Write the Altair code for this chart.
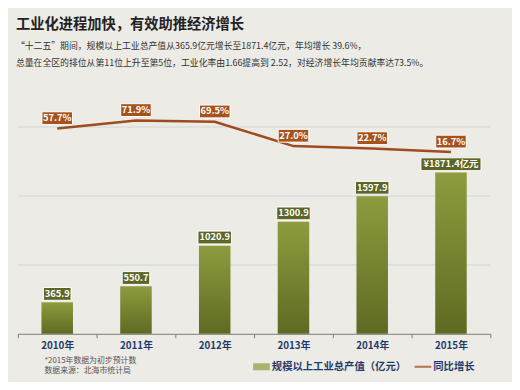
import altair as alt
import pandas as pd

years = ["2010年", "2011年", "2012年", "2013年", "2014年", "2015年"]
output = [365.9, 550.7, 1020.9, 1300.9, 1597.9, 1871.4]
output_labels = ["365.9", "550.7", "1020.9", "1300.9", "1597.9", "¥1871.4亿元"]
growth = [57.7, 71.9, 69.5, 27.0, 22.7, 16.7]
growth_labels = ["57.7%", "71.9%", "69.5%", "27.0%", "22.7%", "16.7%"]
grid_values = [800, 1600, 2400]
series_names = ["规模以上工业总产值（亿元）", "同比增长"]
title_text = "工业化进程加快，有效助推经济增长"
subtitle_lines = [
    "“十二五”期间，规模以上工业总产值从365.9亿元增长至1871.4亿元，年均增长 39.6%，",
    "总量在全区的排位从第11位上升至第5位，工业化率由1.66提高到 2.52，对经济增长年均贡献率达73.5%。",
]
footnote_lines = ["*2015年数据为初步预计数", "数据来源：北海市统计局"]

FONT = "Noto Sans CJK SC"
OLIVE_TOP = "#8d9c3e"
OLIVE_BOT = "#5f6a22"
OLIVE_BOX = "#5d6527"
BROWN = "#9e4b1f"
BROWN_BOX = "#a5521d"
NAVY = "#1f3b6e"

df = pd.DataFrame({
    "year": years,
    "output": output,
    "olabel": output_labels,
    "growth": growth,
    "glabel": growth_labels,
})

xenc = alt.X(
    "year:N",
    sort=years,
    title=None,
    scale=alt.Scale(paddingInner=0, paddingOuter=0),
    axis=alt.Axis(
        labelAngle=0, labelFont=FONT, labelFontSize=10, labelFontWeight="bold",
        labelColor=NAVY, labelPadding=3, tickBand="extent", tickSize=4,
        tickColor="#7a7a7a", domainColor="#7a7a7a", domainWidth=1, grid=False,
    ),
)

yleft = alt.Scale(domain=[0, 3200], nice=False, zero=False)
yright = alt.Scale(domain=[-302, 181], nice=False, zero=False)

base = alt.Chart(df)

grid = alt.Chart(pd.DataFrame({"g": grid_values})).mark_rule(
    color="#d9dcdc", strokeWidth=1.5
).encode(y=alt.Y("g:Q", scale=yleft, axis=None))

bars = base.mark_bar(
    width=32,
    color=alt.Gradient(
        gradient="linear",
        stops=[alt.GradientStop(color=OLIVE_TOP, offset=0),
               alt.GradientStop(color=OLIVE_BOT, offset=1)],
        x1=0, x2=0, y1=0, y2=1,
    ),
).encode(x=xenc, y=alt.Y("output:Q", scale=yleft, axis=None))


def bar_box(sel, w):
    return base.transform_filter(
        alt.FieldOneOfPredicate(field="year", oneOf=sel)
    ).mark_bar(
        width=w, yOffset=-15, y2Offset=-2, color=OLIVE_BOX,
        stroke="white", strokeWidth=1,
    ).encode(
        x=alt.X("year:N", sort=years),
        y=alt.Y("output:Q", scale=yleft, axis=None),
        y2="output:Q",
    )


box5 = bar_box(years[0:2], 28)
box6 = bar_box(years[2:5], 34)
box9 = bar_box(years[5:6], 61)

bar_text = base.mark_text(
    font=FONT, fontSize=9.5, fontWeight="bold", color="white", dy=-8.5,
    baseline="middle",
).encode(
    x=alt.X("year:N", sort=years),
    y=alt.Y("output:Q", scale=yleft, axis=None),
    text="olabel:N",
)

line = base.mark_line(color=BROWN, strokeWidth=2.5).encode(
    x=alt.X("year:N", sort=years),
    y=alt.Y("growth:Q", scale=yright, axis=None),
)

gbox = base.mark_bar(
    width=31, yOffset=-17, y2Offset=-4, color=BROWN_BOX,
    stroke="white", strokeWidth=1,
).encode(
    x=alt.X("year:N", sort=years),
    y=alt.Y("growth:Q", scale=yright, axis=None),
    y2="growth:Q",
)

gtext = base.mark_text(
    font=FONT, fontSize=9.5, fontWeight="bold", color="white", dy=-10.5,
    baseline="middle",
).encode(
    x=alt.X("year:N", sort=years),
    y=alt.Y("growth:Q", scale=yright, axis=None),
    text="glabel:N",
)

leg = alt.Legend(
    orient="none", legendX=239, legendY=305, direction="horizontal", title=None,
    labelFont=FONT, labelFontSize=10.5, labelFontWeight="bold", labelColor=NAVY,
    symbolSize=289, symbolStrokeWidth=0, columnPadding=8, labelOffset=2,
    labelLimit=300,
)
legend_layer = alt.Chart(pd.DataFrame({"series": series_names})).transform_filter(
    "datum.series == 'none'"
).mark_point(filled=True).encode(
    color=alt.Color("series:N", scale=alt.Scale(domain=series_names, range=[OLIVE_TOP, BROWN]), legend=leg),
    shape=alt.Shape("series:N", scale=alt.Scale(domain=series_names,
                    range=["M-1,-0.42H1V0.42H-1Z", "M-1,-0.13H1V0.13H-1Z"]), legend=leg),
)


def text_layer(txt, x, y, size, weight, color):
    return alt.Chart(pd.DataFrame({"t": [txt]})).mark_text(
        font=FONT, fontSize=size, fontWeight=weight, color=color,
        align="left", baseline="middle",
    ).encode(x=alt.value(x), y=alt.value(y), text="t:N")


texts = [
    text_layer(title_text, -2, -34, 14.5, "bold", "#222222"),
    text_layer(subtitle_lines[0], -2, -12, 9, "normal", "#333333"),
    text_layer(subtitle_lines[1], -2, 5, 9, "normal", "#333333"),
    text_layer(footnote_lines[0], 27, 308, 8, "normal", "#555555"),
    text_layer(footnote_lines[1], 27, 318, 8, "normal", "#555555"),
]

chart = alt.layer(
    grid, bars, box5, box6, box9, bar_text, line, gbox, gtext, legend_layer, *texts
).resolve_scale(y="independent").properties(
    width=480, height=280,
    autosize=alt.AutoSizeParams(type="none"),
    padding={"left": 10, "top": 48, "right": 22, "bottom": 46},
    background="#edebe5",
).configure_view(stroke=None)

chart.save("out.html", embed_options={"renderer": "svg", "actions": False})
